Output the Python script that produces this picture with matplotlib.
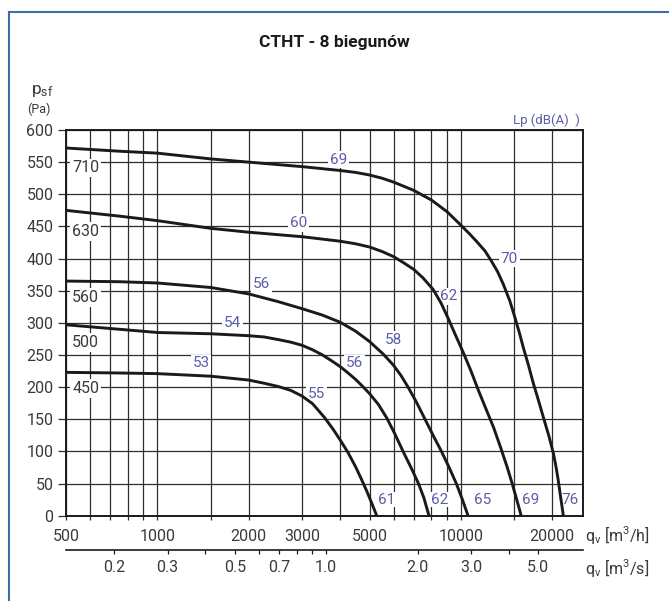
import matplotlib
matplotlib.use("Agg")
import matplotlib.pyplot as plt
from matplotlib.ticker import FixedLocator, NullFormatter, FixedFormatter
from matplotlib.lines import Line2D

plt.rcParams['font.family'] = ['Roboto', 'DejaVu Sans']
plt.rcParams['mathtext.default'] = 'regular'

# ---------------- data ----------------
q710 = [500, 750, 1000, 1500, 2000, 3000, 4000, 4500, 5000, 5500, 6000, 7000, 8000, 9000, 10000, 10700, 11300,
        12000, 12500, 13200, 13800, 14500, 15100, 15600, 16050, 16700, 17300, 18000, 18700, 19500,
        20200, 20600, 20900, 21300, 21760]
p710 = [572, 567, 564, 555, 550, 543, 537, 534, 530, 525, 519, 506, 491, 473, 452, 438, 426,
        412, 399, 380, 360, 334, 307, 284, 262, 234, 207, 180, 153, 124,
        96, 75, 57, 30, 0]

q630 = [500, 750, 1000, 1500, 2000, 3000, 4000, 4500, 5000, 5500, 6000, 6500, 7000, 7500, 8100, 8600, 9100,
        9600, 10200, 10800, 11400, 12100, 12800, 13500, 14200, 14800, 15300, 15800]
p630 = [475, 466, 459, 447, 441, 434, 427, 423, 418, 411, 403, 393, 383, 370, 352, 331, 306,
        281, 253, 225, 196, 166, 138, 107, 76, 48, 24, 0]

q560 = [500, 750, 1000, 1500, 2000, 2500, 3000, 3500, 4000, 4500, 5000, 5560, 6000, 6350, 6700,
        7150, 7620, 8100, 8630, 9150, 9660, 10100, 10560]
p560 = [365, 364, 362, 355, 345, 333, 322, 312, 301, 287, 271, 251, 234, 218, 200,
        176, 150, 125, 100, 75, 50, 26, 0]

q500 = [500, 750, 1000, 1500, 2000, 2250, 2500, 2750, 3000, 3250, 3500, 3750, 4000, 4250, 4500,
        4750, 5000, 5350, 5700, 6050, 6450, 6850, 7250, 7550, 7850]
p500 = [297, 290, 285, 283, 280, 278, 274, 270, 265, 258, 250, 241, 232, 222, 212,
        201, 190, 173, 152, 128, 100, 75, 50, 28, 0]

q450 = [500, 750, 1000, 1500, 2000, 2250, 2500, 2750, 3000, 3250, 3550, 3800, 4050, 4250, 4500, 4700,
        4900, 5100, 5280]
p450 = [223, 222, 221, 217, 211, 206, 201, 195, 186, 174, 153, 134, 114, 98, 76, 57,
        38, 18, 0]

curves = [(q710, p710), (q630, p630), (q560, p560), (q500, p500), (q450, p450)]

diam_labels = ['710', '630', '560', '500', '450']
diam_y = [541, 442, 340, 269, 198]

lp_top = ['69', '60', '56', '54', '53']
lp_top_q = [3950, 2918, 2206, 1765, 1393]
lp_top_p = [554, 455, 360, 299, 237]

lp_mid = ['70', '62', '58', '56', '55']
lp_mid_q = [14450, 9150, 5980, 4475, 3353]
lp_mid_p = [400, 341, 273, 237, 189]

lp_bot = ['76', '69', '65', '62', '61']
lp_bot_q = [22880, 16930, 11775, 8530, 5690]

x_major = [500, 1000, 2000, 3000, 5000, 10000, 20000]
x_minor = [600, 700, 800, 900, 1500, 4000, 6000, 7000, 8000, 9000, 15000]
y_ticks = list(range(0, 601, 50))

s_major = [0.2, 0.3, 0.5, 0.7, 1.0, 2.0, 3.0, 5.0]
s_major_lbl = ['0.2', '0.3', '0.5', '0.7', '1.0', '2.0', '3.0', '5.0']
s_minor = [0.4, 0.6, 0.8, 0.9, 4.0]

# ---------------- figure ----------------
W, H = 669, 601
fig = plt.figure(figsize=(W / 100, H / 100), dpi=100)
ax = fig.add_axes([66 / W, (H - 515.7) / H, (582.7 - 66) / W, (515.7 - 130) / H])

ax.set_xscale('log')
ax.set_xlim(500, 25200)
ax.set_ylim(0, 600)

txtc = '#3a3a3a'
gridc = '#2e2e2e'
blue = '#5a5caa'

ax.xaxis.set_major_locator(FixedLocator(x_major))
ax.xaxis.set_major_formatter(FixedFormatter([str(v) for v in x_major]))
ax.xaxis.set_minor_locator(FixedLocator(x_minor))
ax.xaxis.set_minor_formatter(NullFormatter())
ax.set_yticks(y_ticks)
ax.set_yticklabels([str(v) for v in y_ticks])

ax.grid(True, which='both', axis='x', color=gridc, lw=0.9)
ax.grid(True, which='major', axis='y', color=gridc, lw=0.9)
ax.set_axisbelow(True)

ax.tick_params(axis='x', which='both', direction='out', length=3, width=0.9,
               color=gridc, labelsize=11.5, labelcolor=txtc, pad=6.5)
ax.tick_params(axis='y', which='major', direction='out', length=5.6, width=0.9,
               color=gridc, labelsize=11.5, labelcolor=txtc, pad=3.5)

for s in ax.spines.values():
    s.set_color('#1a1a1a')
    s.set_linewidth(1.4)

for q, p in curves:
    ax.plot(q, p, color='#1a1a1a', lw=2.1, solid_capstyle='butt',
            solid_joinstyle='round', zorder=5)

bb = dict(boxstyle='square,pad=0.12', fc='white', ec='none')
for lbl, yv in zip(diam_labels, diam_y):
    ax.text(580, yv, lbl, ha='center', va='center', fontsize=11.5, color=txtc,
            bbox=bb, zorder=4)
for lbl, qv, pv in zip(lp_top, lp_top_q, lp_top_p):
    ax.text(qv, pv, lbl, ha='center', va='center', fontsize=11, color=blue,
            bbox=bb, zorder=4)
for lbl, qv, pv in zip(lp_mid, lp_mid_q, lp_mid_p):
    ax.text(qv, pv, lbl, ha='center', va='center', fontsize=11, color=blue,
            bbox=bb, zorder=4)
for lbl, qv in zip(lp_bot, lp_bot_q):
    ax.text(qv, 25, lbl, ha='center', va='center', fontsize=11, color=blue,
            bbox=dict(boxstyle='square,pad=0.05', fc='white', ec='none'), zorder=4)

# secondary axis m3/s
sec = ax.secondary_xaxis('bottom', functions=(lambda x: x / 3600.0, lambda x: x * 3600.0))
sec.spines['bottom'].set_position(('outward', 24.7))
sec.spines['bottom'].set_color('#1a1a1a')
sec.spines['bottom'].set_linewidth(1.2)
sec.xaxis.set_major_locator(FixedLocator(s_major))
sec.xaxis.set_major_formatter(FixedFormatter(s_major_lbl))
sec.xaxis.set_minor_locator(FixedLocator(s_minor))
sec.xaxis.set_minor_formatter(NullFormatter())
sec.tick_params(axis='x', which='both', direction='out', length=3, width=0.9,
                color='#1a1a1a', labelsize=11.5, labelcolor=txtc, pad=4)

# axis captions
fig.text(585 / W, 1 - 535 / H, r'q$_{v}$ [m$^{3}$/h]', ha='left', va='center',
         fontsize=11.5, color=txtc)
fig.text(585 / W, 1 - 568 / H, r'q$_{v}$ [m$^{3}$/s]', ha='left', va='center',
         fontsize=11.5, color=txtc)
fig.text(31 / W, 1 - 91 / H, r'p$_{sf}$', ha='left', va='center', fontsize=12.5, color=txtc)
fig.text(39 / W, 1 - 109 / H, '(Pa)', ha='center', va='center', fontsize=9, color=txtc)
fig.text(513 / W, 1 - 120 / H, 'Lp (dB(A)  )', ha='left', va='center', fontsize=9.5, color=blue)

fig.text(334 / W, 1 - 42 / H, 'CTHT - 8 biegunów', ha='center', va='center',
         fontsize=12.5, fontweight='bold', color='#1a1a1a')

# frame lines
fc = '#3c6fa6'
fig.add_artist(Line2D([9 / W, 1.0], [1 - 12 / H, 1 - 12 / H], transform=fig.transFigure, color=fc, lw=1.5))
fig.add_artist(Line2D([9 / W, 9 / W], [0, 1 - 12 / H], transform=fig.transFigure, color=fc, lw=1.5))

fig.savefig('out.png', dpi=100)
